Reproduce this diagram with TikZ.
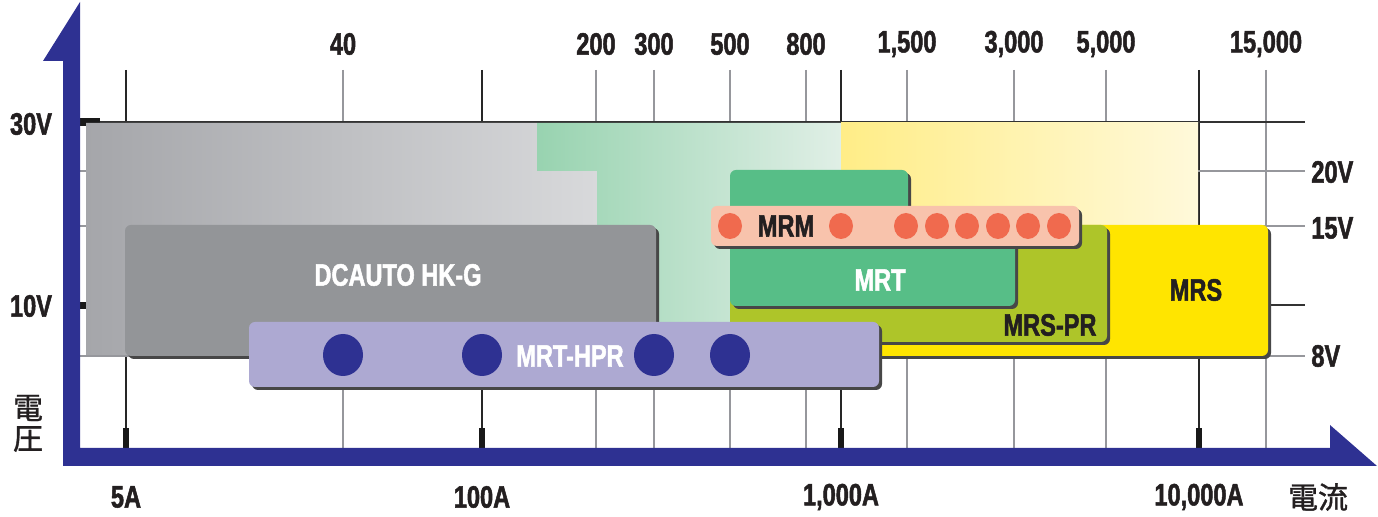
\documentclass[tikz,border=0pt]{standalone}
\usepackage{fontspec}
\newfontfamily\cond[FakeStretch=0.76, BoldFeatures={FakeBold=1.6}]{Liberation Sans}
\newfontfamily\cjk[FakeBold=1.2]{Noto Sans CJK JP}
\definecolor{axisblue}{RGB}{46,49,146}
\definecolor{txtdark}{RGB}{35,31,32}
\definecolor{dcgray}{RGB}{147,149,152}
\definecolor{hprfill}{RGB}{173,169,210}
\definecolor{mrtfill}{RGB}{87,190,135}
\definecolor{mrsprfill}{RGB}{174,197,41}
\definecolor{mrsfill}{RGB}{255,229,0}
\definecolor{mrmfill}{RGB}{248,195,172}
\definecolor{mrmdot}{RGB}{240,106,78}
\definecolor{gridgray}{RGB}{150,151,156}
\definecolor{bgA}{RGB}{165,166,170}
\definecolor{bgB}{RGB}{216,217,219}
\definecolor{grA}{RGB}{152,211,176}
\definecolor{grB}{RGB}{224,239,230}
\definecolor{ylA}{RGB}{255,237,135}
\definecolor{ylB}{RGB}{255,249,218}
\newcommand\mybox[5]{%
  \fill[black!72, rounded corners=3pt] (#2+3,#3+3) rectangle (#4+3,#5+3);
  \fill[#1, rounded corners=3pt] (#2,#3) rectangle (#4,#5);}
\begin{document}
\begin{tikzpicture}[x=0.5pt,y=-0.5pt,
  lbl/.style={font=\cond\bfseries\fontsize{15.5}{16}\selectfont, text=txtdark, inner sep=0pt},
  wlbl/.style={lbl, text=white},
  jlbl/.style={font=\cjk\fontsize{15}{15}\selectfont, text=txtdark, inner sep=0pt},
  majorline/.style={line width=0.75pt, black!85},
  minorline/.style={line width=0.75pt, gridgray},
  darkhline/.style={line width=1pt, black!80},
  tickmark/.style={fill=black!90}]
\useasboundingbox (0,0) rectangle (1378,517);
% vertical grid lines
\foreach \x in {126,482,841,1199} \draw[majorline] (\x,70) -- (\x,448);
\foreach \x in {343,596,654,730,806,907,1014,1106,1266} \draw[minorline] (\x,70) -- (\x,448);
% horizontal grid lines
\draw[darkhline] (80,122) -- (1305,122);
\draw[darkhline] (80,305) -- (1305,305);
\foreach \y in {171,226,356} \draw[minorline] (80,\y) -- (1305,\y);
% ticks
\foreach \x in {126,482,841,1199} \fill[tickmark] (\x-3,428) rectangle (\x+3,448);
\fill[tickmark] (80,118) rectangle (100,126);
\fill[tickmark] (80,302) rectangle (87,309);
% background areas
\shade[left color=bgA, right color=bgB] (86,123) -- (537,123) -- (537,171) -- (597,171) -- (597,355) -- (86,355) -- cycle;
\shade[left color=grA, right color=grB] (537,123) -- (841,123) -- (841,355) -- (597,355) -- (597,171) -- (537,171) -- cycle;
\shade[left color=ylA, right color=ylB] (841,123) rectangle (1198,355);
% boxes
\mybox{mrsfill}{730}{225}{1268}{356}
\mybox{mrsprfill}{730}{225}{1107}{342}
\fill[black!72, rounded corners=3pt] (733,173) -- (911,173) -- (911,229) -- (1018,229) -- (1018,309) -- (733,309) -- cycle;
\fill[mrtfill, rounded corners=3pt] (730,170) -- (908,170) -- (908,226) -- (1015,226) -- (1015,306) -- (730,306) -- cycle;
\mybox{mrmfill}{711}{206}{1079}{246}
\foreach \x in {730,841,906,937,967,998,1028,1059} \fill[mrmdot] (\x,226) ellipse [x radius=12, y radius=13];
\mybox{dcgray}{125}{225}{656}{356}
\mybox{hprfill}{249}{322}{879}{387}
\foreach \x in {343,482,654,730} \fill[axisblue] (\x,355) ellipse [x radius=20, y radius=21];
% box labels
\node[wlbl] (dclabel) at (398,275) {DCAUTO HK-G};
\node[wlbl] (hprlabel) at (570,356) {MRT-HPR};
\node[wlbl] (mrtlabel) at (880,280) {MRT};
\node[lbl] (mrslabel) at (1196,290) {MRS};
\node[lbl] (mrsprlabel) at (1050,325) {MRS-PR};
\node[lbl] (mrmlabel) at (786,226) {MRM};
% axes
\fill[axisblue] (63,466) -- (63,61) -- (43,61) -- (80,2) -- (80,448) -- (1330,448) -- (1330,425) -- (1377,466) -- cycle;
% axis labels
\node[lbl] (v30) at (31,124) {30V};
\node[lbl] (v10) at (31,306) {10V};
\node[lbl, anchor=west] (v20) at (1311,172) {20V};
\node[lbl, anchor=west] (v15) at (1311,228) {15V};
\node[lbl, anchor=west] (v8) at (1311,356) {8V};
\node[jlbl] (jv1) at (28,408) {電};
\node[jlbl] (jv2) at (28,439) {圧};
\node[jlbl] (jc) at (1318,497) {電流};
\foreach \x/\t [count=\i] in {343/40,596/200,654/300,730/500,806/800,907/{1,500},1014/{3,000},1106/{5,000},1266/{15,000}}
  \node[lbl] (top\i) at (\x,44) {\t};
\node[lbl] (a5) at (126,497) {5A};
\node[lbl] (a100) at (482,497) {100A};
\node[lbl] (a1000) at (841,497) {1,000A};
\node[lbl] (a10000) at (1199,497) {10,000A};
\end{tikzpicture}
\end{document}
